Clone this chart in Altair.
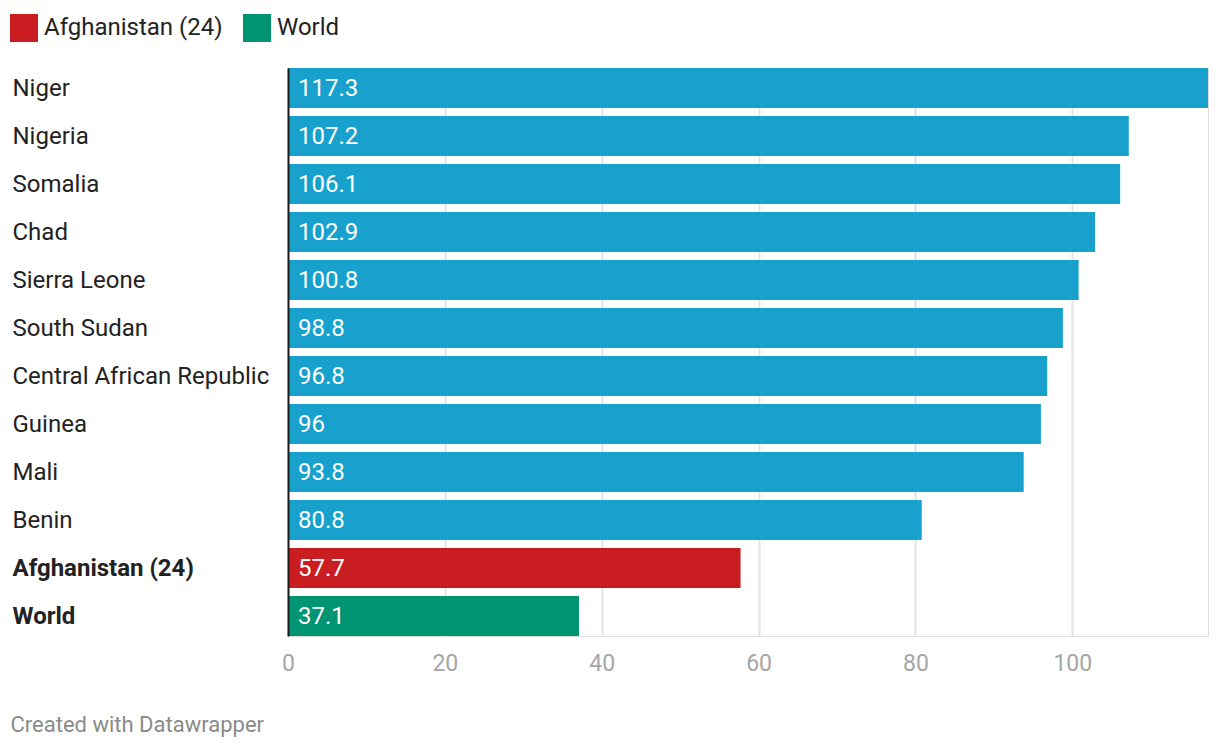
import altair as alt
import pandas as pd

countries = ["Niger", "Nigeria", "Somalia", "Chad", "Sierra Leone", "South Sudan",
             "Central African Republic", "Guinea", "Mali", "Benin",
             "Afghanistan (24)", "World"]
values = [117.3, 107.2, 106.1, 102.9, 100.8, 98.8, 96.8, 96, 93.8, 80.8, 57.7, 37.1]
groups = ["Other"] * 10 + ["Afghanistan (24)", "World"]
labels = ["117.3", "107.2", "106.1", "102.9", "100.8", "98.8", "96.8", "96", "93.8",
          "80.8", "57.7", "37.1"]
x_ticks = [0, 20, 40, 60, 80, 100]

df = pd.DataFrame({"country": countries, "value": values, "group": groups, "label": labels})

FONT = "Roboto"

y_enc = alt.Y(
    "country:N",
    sort=countries,
    scale=alt.Scale(paddingInner=8 / 48, paddingOuter=0),
    axis=alt.Axis(
        title=None,
        ticks=False,
        tickSize=0,
        labelAlign="left",
        labelPadding=276,
        labelOffset=1,
        labelFont=FONT,
        labelFontSize=24,
        labelColor="#222222",
        labelFontWeight={
            "condition": {
                "test": "datum.value == 'World' || datum.value == 'Afghanistan (24)'",
                "value": "bold",
            },
            "value": "normal",
        },
        domain=True,
        domainColor="#1d1d1d",
        domainWidth=2,
        grid=False,
        labelLimit=400,
        zindex=1,
    ),
)

x_enc = alt.X(
    "value:Q",
    scale=alt.Scale(domain=[0, 117.3], nice=False, zero=True),
    axis=alt.Axis(
        values=x_ticks,
        title="Created with Datawrapper",
        titleX=-278,
        titleY=88,
        titleAlign="left",
        titleAnchor="start",
        titleBaseline="middle",
        titleFont=FONT,
        titleFontSize=22,
        titleFontWeight="normal",
        titleColor="#8a8a8a",
        domain=False,
        ticks=False,
        labelFont=FONT,
        labelFontSize=23,
        labelColor="#a6a6a6",
        labelPadding=16,
        labelFlush=False,
        grid=True,
        gridColor="#e4e4e4",
        gridWidth=2,
        format="d",
        zindex=0,
    ),
)

bars = alt.Chart(df).mark_bar(size=40).encode(
    y=y_enc,
    x=x_enc,
    color=alt.Color(
        "group:N",
        scale=alt.Scale(
            domain=["Afghanistan (24)", "World", "Other"],
            range=["#c91d22", "#009473", "#18a1cd"],
        ),
        legend=alt.Legend(
            title=None,
            values=["Afghanistan (24)", "World"],
            orient="none",
            legendX=-278,
            legendY=-54,
            direction="horizontal",
            symbolType="square",
            symbolSize=784,
            symbolStrokeWidth=0,
            symbolOpacity=1,
            labelFont=FONT,
            labelFontSize=24,
            labelColor="#222222",
            labelOffset=6,
            columnPadding=20,
            labelLimit=400,
        ),
    ),
)

text = alt.Chart(df).mark_text(
    align="left", baseline="middle", dx=10, dy=1, color="white", font=FONT, fontSize=24
).encode(
    y=alt.Y("country:N", sort=countries),
    x=alt.value(0),
    text="label:N",
)

chart = (
    alt.layer(bars, text)
    .properties(
        width=920,
        height=568,
        autosize=alt.AutoSizeParams(type="none"),
        padding={"left": 280, "top": 60, "right": 4, "bottom": 110},
    )
    .configure_view(stroke=None)
    .configure(background="white")
)

chart.save("out.html", embed_options={"renderer": "svg", "actions": False})
